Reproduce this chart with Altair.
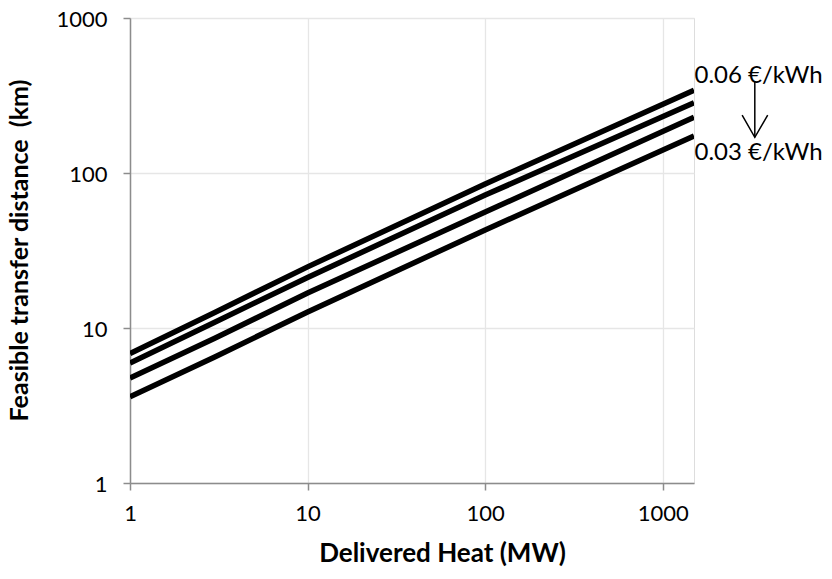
import altair as alt
import pandas as pd

# Delivered heat (MW) sample points and feasible distance (km) for each price level
heat = [1, 3, 10, 100, 1500]
series_names = ["0.06 €/kWh", "0.05 €/kWh", "0.04 €/kWh", "0.03 €/kWh"]
dist_006 = [6.85, 12.6, 24.8, 85, 342]
dist_005 = [5.95, 10.9, 21.2, 72, 284]
dist_004 = [4.75, 8.6, 16.8, 56, 229]
dist_003 = [3.6, 6.5, 12.7, 42.9, 173]

x_ticks = [1, 10, 100, 1000]
y_ticks = [1, 10, 100, 1000]

# annotation text (positions in data units)
label_text = ["0.06 €/kWh", "0.03 €/kWh"]
label_x = [1510, 1510]
label_y = [420, 135]

# arrow (data units)
arrow_x = [3300, 3300, 2800, 3300, 3900]
arrow_y = [390, 170, 236, 170, 236]
arrow_part = ["shaft", "shaft", "head", "head", "head"]
arrow_order = [0, 1, 0, 1, 2]

FONT = "Lato"

rows = []
for name, vals in zip(series_names, [dist_006, dist_005, dist_004, dist_003]):
    for h, d in zip(heat, vals):
        rows.append({"series": name, "heat": h, "dist": d})
df = pd.DataFrame(rows)

xscale = alt.Scale(type="log", domain=[1, 1500], nice=False)
yscale = alt.Scale(type="log", domain=[1, 1000], nice=False)

common_axis = dict(
    format="d", grid=True, gridColor="#e6e6e6", gridWidth=1.3,
    domainColor="#8c8c8c", domainWidth=1.5,
    tickColor="#8c8c8c", tickWidth=1.5, tickSize=7,
    labelFont=FONT, labelFontSize=22, labelColor="black", labelFlush=False,
    titleFont=FONT, titleFontWeight="bold", titleColor="black",
    titleAlign="center",
)

lines = alt.Chart(df).mark_line(color="black", strokeWidth=5.5, clip=True).encode(
    x=alt.X("heat:Q", scale=xscale,
            axis=alt.Axis(title="Delivered Heat (MW)", values=x_ticks,
                          labelPadding=13, titleX=312, titleY=70, titleFontSize=26,
                          titleBaseline="middle", **common_axis)),
    y=alt.Y("dist:Q", scale=yscale,
            axis=alt.Axis(title="Feasible transfer distance\u00a0 (km)", values=y_ticks,
                          labelPadding=16, labelBaseline="alphabetic", labelOffset=8,
                          titleX=-103, titleY=232, titleAngle=270,
                          titleFontSize=25, titleBaseline="alphabetic", **common_axis)),
    detail="series:N",
)

ann_df = pd.DataFrame({"t": label_text, "x": label_x, "y": label_y})
labels = alt.Chart(ann_df).mark_text(
    align="left", baseline="middle", font=FONT, fontSize=24, color="black", clip=False
).encode(x=alt.X("x:Q", scale=xscale), y=alt.Y("y:Q", scale=yscale), text="t:N")

arrow_df = pd.DataFrame({"x": arrow_x, "y": arrow_y, "part": arrow_part, "o": arrow_order})
arrow = alt.Chart(arrow_df).mark_line(color="black", strokeWidth=1.5, clip=False).encode(
    x=alt.X("x:Q", scale=xscale), y=alt.Y("y:Q", scale=yscale),
    detail="part:N", order="o:Q"
)

chart = alt.layer(lines, labels, arrow).properties(
    width=564, height=465,
    autosize=alt.AutoSizeParams(type="none"),
    padding={"left": 122, "top": 10, "right": 130, "bottom": 90},
).configure_view(stroke="black", strokeWidth=1.5).configure(background="white")

chart.save("out.html", embed_options={"renderer": "svg", "actions": False})
